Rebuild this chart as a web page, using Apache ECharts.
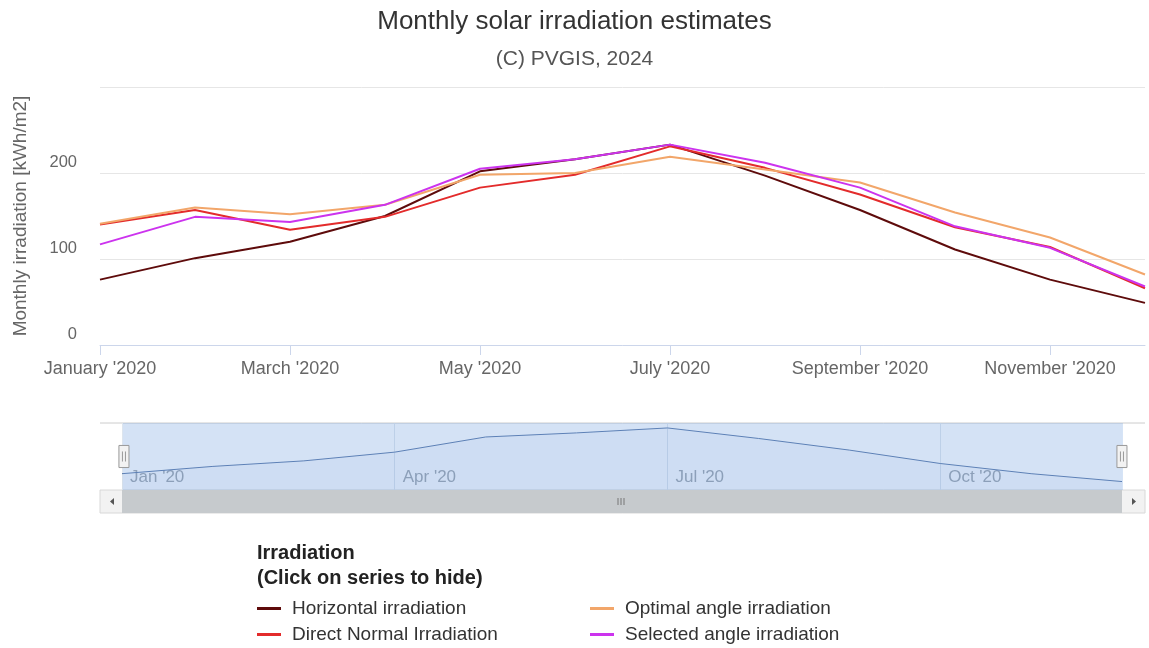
<!DOCTYPE html>
<html><head><meta charset="utf-8">
<script src="https://cdn.jsdelivr.net/npm/echarts@6/dist/echarts.min.js"></script>
<style>html,body{margin:0;padding:0;background:#fff}#c{width:1149px;height:648px}</style>
</head><body><div id="c"></div>
<script>
const months = ['January','February','March','April','May','June','July','August','September','October','November','December'];
const shortMonths = ['Jan','Feb','Mar','Apr','May','Jun','Jul','Aug','Sep','Oct','Nov','Dec'];
const yearLong = "'2020";
const yearShort = "'20";
const seriesNames = ['Horizontal irradiation','Direct Normal Irradiation','Optimal angle irradiation','Selected angle irradiation'];
const horizontal = [76, 101, 120, 150, 202, 216, 233, 197, 157, 111, 76, 49];
const directNormal = [140, 157, 134, 149, 183, 198, 231, 206, 175, 137, 114, 66];
const optimal = [141, 160, 152, 163, 198, 200, 219, 204, 189, 154, 125, 82];
const selected = [117, 149, 143, 163, 205, 216, 233, 212, 183, 138, 113, 68];
const yTicks = [0, 100, 200, 300];
const colors = ['#5e0b0b','#e32b2b','#f2a66a','#cc33ee'];

const font = 'Liberation Sans, Arial, sans-serif';
const chart = echarts.init(document.getElementById('c'));
const dataList = [horizontal, directNormal, optimal, selected];
const series = seriesNames.map((n,i)=>({
  name:n, type:'line', data:dataList[i], symbol:'none', xAxisIndex:0, yAxisIndex:0,
  lineStyle:{width:2, color:colors[i]}, itemStyle:{color:colors[i]}, z:3+i
}));
series.push({
  name:'nav', type:'line', data:horizontal, symbol:'none', xAxisIndex:1, yAxisIndex:1, silent:true,
  lineStyle:{width:1, color:'#5a78a8'}, areaStyle:{color:'rgba(51,92,173,0.06)'}
});
const legendTextStyle = {fontFamily:font, fontSize:19, color:'#333', padding:[0,0,0,6]};
chart.setOption({
  animation:false,
  textStyle:{fontFamily:font},
  title:[
    {text:'Monthly solar irradiation estimates', left:'center', top:4, textStyle:{fontFamily:font, fontSize:26, fontWeight:'normal', color:'#333'}},
    {text:'(C) PVGIS, 2024', left:'center', top:44, textStyle:{fontFamily:font, fontSize:21, fontWeight:'normal', color:'#555'}},
    {text:'Irradiation\n(Click on series to hide)', left:252, top:536, padding:5, textStyle:{fontFamily:font, fontSize:20, fontWeight:'bold', color:'#222', lineHeight:25}}
  ],
  legend:[
    {data:[seriesNames[0], seriesNames[1]], orient:'vertical', left:257, top:599, padding:0, itemGap:7, itemWidth:24, itemHeight:3, icon:'rect', textStyle:legendTextStyle},
    {data:[seriesNames[2], seriesNames[3]], orient:'vertical', left:590, top:599, padding:0, itemGap:7, itemWidth:24, itemHeight:3, icon:'rect', textStyle:legendTextStyle}
  ],
  grid:[
    {left:100, right:4, top:87, bottom:303, containLabel:false},
    {left:122, right:27, top:423, height:67, containLabel:false}
  ],
  xAxis:[
    {gridIndex:0, type:'category', data:months, boundaryGap:false,
     axisLine:{lineStyle:{color:'#ccd6eb'}},
     axisTick:{show:true, interval:1, length:10, lineStyle:{color:'#ccd6eb'}},
     axisLabel:{interval:1, margin:15, fontSize:18, color:'#666', formatter:v=>v+' '+yearLong},
     splitLine:{show:false}},
    {gridIndex:1, type:'category', data:shortMonths, boundaryGap:false,
     axisLine:{show:false}, axisTick:{show:false},
     axisLabel:{interval:2, inside:true, margin:4, align:'left', padding:[0,0,0,8], fontSize:17, color:'#a0a6ad', formatter:v=>v+' '+yearShort},
     splitLine:{show:true, interval:2, lineStyle:{color:'#dfe6ee'}}}
  ],
  yAxis:[
    {gridIndex:0, type:'value', min:0, max:300, interval:100,
     name:'Monthly irradiation [kWh/m2]', nameLocation:'middle', nameGap:70,
     nameTextStyle:{fontFamily:font, fontSize:19, color:'#666'},
     axisLine:{show:false}, axisTick:{show:false},
     axisLabel:{fontSize:16.5, color:'#666', margin:23, verticalAlign:'bottom', padding:[0,0,2,0], formatter:v=>(v===300?'':String(v))},
     splitLine:{lineStyle:{color:'#e6e6e6'}}},
    {gridIndex:1, type:'value', min:20, max:250, show:false, splitLine:{show:false}}
  ],
  dataZoom:[{
    type:'slider', xAxisIndex:[0,1], start:0, end:100, filterMode:'none',
    left:122, right:27, top:423, height:67, showDataShadow:false, showDetail:false,
    brushSelect:false, moveHandleSize:0,
    backgroundColor:'rgba(0,0,0,0)', borderColor:'rgba(0,0,0,0)',
    fillerColor:'rgba(102,150,220,0.28)',
    handleIcon:'path://M0,0 L10,0 L10,22 L0,22 Z M3.5,6 L3.5,16 M6.5,6 L6.5,16',
    handleSize:'33%',
    handleStyle:{color:'#f2f2f2', borderColor:'#999', borderWidth:1}
  }],
  graphic:[
    {type:'line', shape:{x1:100, y1:423, x2:1145, y2:423}, style:{stroke:'#cccccc', lineWidth:1}},
    {type:'rect', shape:{x:100, y:490, width:1045, height:23}, style:{fill:'#f2f2f2', stroke:'#d8d8d8'}},
    {type:'rect', shape:{x:122, y:490, width:1000, height:23}, style:{fill:'#c6cacd'}},
    {type:'polygon', shape:{points:[[114,498],[114,505],[110,501.5]]}, style:{fill:'#555'}},
    {type:'polygon', shape:{points:[[1132,498],[1132,505],[1136,501.5]]}, style:{fill:'#555'}},
    {type:'line', shape:{x1:618, y1:498, x2:618, y2:505}, style:{stroke:'#777', lineWidth:1}},
    {type:'line', shape:{x1:621, y1:498, x2:621, y2:505}, style:{stroke:'#777', lineWidth:1}},
    {type:'line', shape:{x1:624, y1:498, x2:624, y2:505}, style:{stroke:'#777', lineWidth:1}}
  ],
  series:series
});
</script></body></html>
